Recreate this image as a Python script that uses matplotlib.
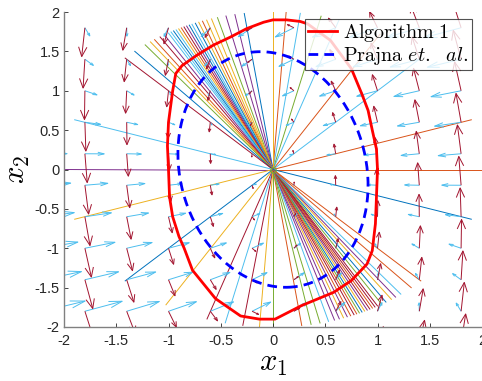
import numpy as np
import matplotlib.pyplot as plt
from matplotlib.collections import LineCollection

plt.rcParams['font.family'] = ['Liberation Sans', 'DejaVu Sans']
plt.rcParams['mathtext.fontset'] = 'cm'
plt.rcParams['axes.unicode_minus'] = False

# MATLAB default colour order
C = ['#0072BD', '#D95319', '#EDB120', '#7E2F8E', '#77AC30', '#4DBEEE', '#A2142F']

# rays from the origin, length 2: angle (deg) and colour index
ray_deg = [0, 18.4, 45, 59.2, 71.6, 76.7, 82.5, 86.4, 90,
           97.9, 100.5, 103.0, 105.4, 107.1, 108.5, 109.7, 110.8, 111.8, 112.8, 113.6,
           114.4, 115.2, 116.0, 116.8, 117.6, 118.4, 119.2, 120.0, 121.3, 122.7,
           124.5, 125.9, 127.7, 131.4, 135,
           161.6, 180, 198.4, 225, 239.2, 251.6, 256.8, 261.7, 266.3, 270,
           277.9, 280.5, 283.0, 285.4, 287.1, 288.5, 289.7, 290.8, 291.8, 292.8, 293.6,
           294.4, 295.2, 296.0, 296.8, 297.6, 298.4, 299.2, 300.0, 301.3, 302.7,
           304.5, 305.9, 307.7, 311.4, 315, 341.6]
ray_col = [1, 1, 5, 1, 5, 4, 5, 1, 2,
           0, 3, 3, 4, 2, 2, 1, 2, 0, 5, 0,
           3, 6, 1, 2, 5, 0, 5, 5, 3, 6,
           1, 2, 4, 0, 6,
           5, 3, 2, 0, 2, 6, 5, 6, 2, 4,
           1, 4, 4, 5, 3, 3, 2, 3, 1, 6, 1,
           4, 0, 2, 3, 6, 1, 6, 6, 4, 0,
           2, 3, 5, 1, 1, 0]
ray_len = 2.0

# vector fields of the two modes (already scaled to arrow length)
A_blue = np.array([[-0.112, -0.086],
                   [-0.0064, -0.064]])
A_red = np.array([[-0.016, -0.033],
                  [0.203, 0.0]])
grid_pts = [-2.2, -1.8, -1.4, -1.0, -0.6, -0.2, 0.2, 0.6, 1.0, 1.4, 1.8]

# Algorithm 1 estimate (closed curve)
alg_x = [1.00, 0.99, 0.95, 0.91, 0.85, 0.75, 0.55, 0.33, 0.26, 0.13, 0.00, -0.09, -0.25,
         -0.41, -0.57, -0.73, -0.87, -0.93, -0.96, -1.00, -1.01, -1.00, -0.99, -0.96,
         -0.90, -0.85, -0.77, -0.55, -0.31, -0.13, 0.02, 0.27, 0.58, 0.75, 0.90, 0.95,
         0.98, 0.99, 1.00]
alg_y = [0.00, 0.26, 0.50, 0.75, 0.96, 1.28, 1.64, 1.85, 1.88, 1.90, 1.90, 1.87, 1.79,
         1.68, 1.58, 1.45, 1.32, 1.22, 1.00, 0.60, 0.30, 0.00, -0.35, -0.60,
         -0.85, -1.00, -1.28, -1.64, -1.86, -1.90, -1.90, -1.73, -1.56, -1.41, -1.20, -1.03,
         -0.69, -0.35, 0.00]

# Prajna et al. level set x'Px = 1
P = np.array([[1.23, 0.10],
              [0.10, 0.455]])


def quiver_segs(A, pts):
    # MATLAB-style arrows: shaft + two head strokes
    segs = []
    a, b = 0.33, 0.33
    for x in pts:
        for y in pts:
            u = A[0, 0] * x + A[0, 1] * y
            v = A[1, 0] * x + A[1, 1] * y
            tx, ty = x + u, y + v
            segs.append([(x, y), (tx, ty)])
            segs.append([(tx - a * (u + b * v), ty - a * (v - b * u)), (tx, ty),
                         (tx - a * (u - b * v), ty - a * (v + b * u))])
    return segs


fig = plt.figure(figsize=(4.82, 3.81), dpi=100)
ax = fig.add_axes([64 / 482, 54 / 381, 418 / 482, 315 / 381])

for d, c in zip(ray_deg, ray_col):
    t = np.deg2rad(d)
    ax.plot([0, ray_len * np.cos(t)], [0, ray_len * np.sin(t)], color=C[c], lw=0.7, zorder=1)

ax.add_collection(LineCollection(quiver_segs(A_blue, grid_pts), colors=C[5], linewidths=0.7, zorder=2))
ax.add_collection(LineCollection(quiver_segs(A_red, grid_pts), colors=C[6], linewidths=0.7, zorder=2))
ax.plot(0, 0, 'o', color=C[4], ms=4, mfc='none', mew=0.8, zorder=3)

# ellipse from P
w, V = np.linalg.eigh(P)
th = np.linspace(0, 2 * np.pi, 200)
E = V @ np.vstack([np.cos(th) / np.sqrt(w[0]), np.sin(th) / np.sqrt(w[1])])
h2, = ax.plot(E[0], E[1], '--', color='b', lw=2, dashes=(3.5, 2.2), zorder=4)
h1, = ax.plot(alg_x, alg_y, '-', color='r', lw=2, zorder=5)

ax.set_xlim(-2, 2)
ax.set_ylim(-2, 2)
ticks = np.arange(-2, 2.01, 0.5)
labels = ['-2', '-1.5', '-1', '-0.5', '0', '0.5', '1', '1.5', '2']
ax.set_xticks(ticks)
ax.set_yticks(ticks)
ax.set_xticklabels(labels)
ax.set_yticklabels(labels)
ax.tick_params(direction='in', length=3, width=0.6, labelsize=10.5, colors='#262626')
ax.tick_params(axis='x', pad=5)
ax.tick_params(axis='y', pad=3)
for s in ['top', 'right']:
    ax.spines[s].set_visible(False)
for s in ['left', 'bottom']:
    ax.spines[s].set_color('#808080')
    ax.spines[s].set_linewidth(1.0)
ax.set_xlabel(r'$x_1$', fontsize=22, labelpad=0)
ax.set_ylabel(r'$x_2$', fontsize=22, labelpad=2)

leg = ax.legend([h1, h2], [r'$\mathrm{Algorithm\ 1}$', r'$\mathrm{Prajna}\ \mathit{et.}\ \ \mathit{al.}$'],
                loc='upper right', bbox_to_anchor=(0.975, 0.978), fontsize=14.5, frameon=True,
                fancybox=False, handlelength=1.45, borderpad=0.15, labelspacing=0.05,
                handletextpad=0.3, borderaxespad=0)
leg.get_frame().set_edgecolor('#262626')
leg.get_frame().set_linewidth(0.8)
leg.set_zorder(10)

fig.savefig('out.png', dpi=100)
